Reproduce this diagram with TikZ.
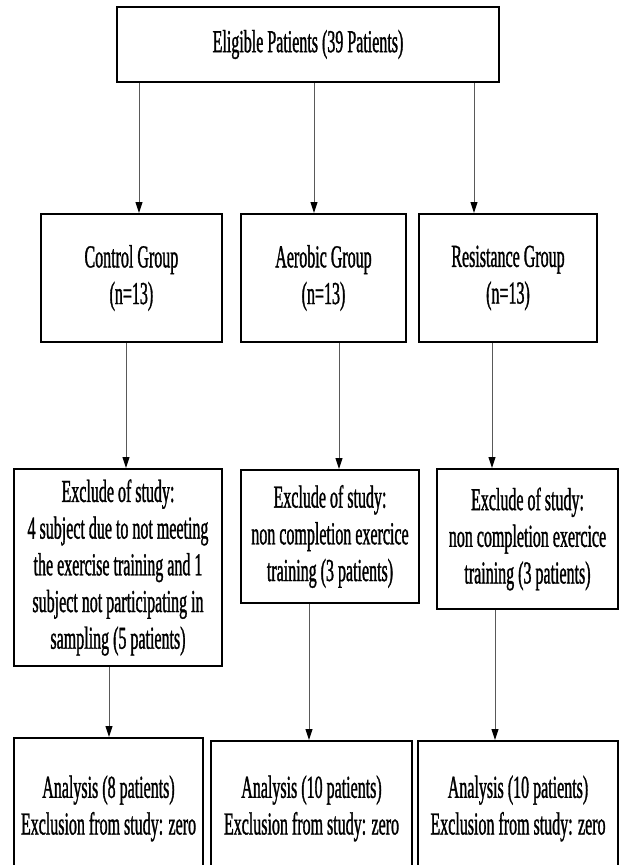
\documentclass[tikz,border=0pt]{standalone}
\usepackage{fontspec}
\setmainfont[FakeStretch=0.5,FakeBold=1]{Liberation Serif}
\usetikzlibrary{arrows.meta}
\begin{document}
\begin{tikzpicture}[x=1pt,y=-1pt,
  box/.style={draw=black,line width=2pt,inner sep=0pt,align=center,
    font=\fontsize{32}{36.7}\selectfont},
  arr/.style={draw=black!65,line width=1pt,-{Triangle[length=11pt,width=7pt,color=black]}}]
\useasboundingbox (0,0) rectangle (619,865);
\clip (0,0) rectangle (619,865);
\fill[white] (0,0) rectangle (619,865);
% top
\node[box,minimum width=382pt,minimum height=75pt] (top) at (308,44.5) {Eligible Patients (39 Patients)};
% groups
\node[box,minimum width=181pt,minimum height=128pt] (g1) at (131.4,278) {Control Group\\(n=13)};
\node[box,minimum width=165pt,minimum height=128pt] (g2) at (323.5,278) {Aerobic Group\\(n=13)};
\node[box,minimum width=178pt,minimum height=128pt] (g3) at (508,278) {Resistance Group\\(n=13)};
% exclusions
\node[box,minimum width=208pt,minimum height=197pt] (e1) at (118,567.5) {Exclude of study:\\4 subject due to not meeting\\the exercise training and 1\\subject not participating in\\sampling (5 patients)};
\node[box,minimum width=178pt,minimum height=133pt] (e2) at (330,536.5) {Exclude of study:\\non completion exercice\\training (3 patients)};
\node[box,minimum width=181pt,minimum height=140pt] (e3) at (527.5,539) {Exclude of study:\\non completion exercice\\training (3 patients)};
% analysis
\node[box,minimum width=189pt,minimum height=141pt] (a1) at (108.5,808.5) {Analysis (8 patients)\\Exclusion from study: zero};
\node[box,minimum width=201pt,minimum height=135pt] (a2) at (311.5,808.5) {Analysis (10 patients)\\Exclusion from study: zero};
\node[box,minimum width=200pt,minimum height=135pt] (a3) at (518,808.5) {Analysis (10 patients)\\Exclusion from study: zero};
% arrow columns
\coordinate (c1) at (139,0);
\coordinate (c2) at (314,0);
\coordinate (c3) at (474,0);
\coordinate (d1) at (126,0);
\coordinate (d2) at (339,0);
\coordinate (d3) at (492,0);
\coordinate (f1) at (109,0);
\coordinate (f2) at (309,0);
\coordinate (f3) at (495,0);
\draw[arr] (top.south -| c1) -- (g1.north -| c1);
\draw[arr] (top.south -| c2) -- (g2.north -| c2);
\draw[arr] (top.south -| c3) -- (g3.north -| c3);
\draw[arr] (g1.south -| d1) -- (e1.north -| d1);
\draw[arr] (g2.south -| d2) -- (e2.north -| d2);
\draw[arr] (g3.south -| d3) -- (e3.north -| d3);
\draw[arr] (e1.south -| f1) -- (a1.north -| f1);
\draw[arr] (e2.south -| f2) -- (a2.north -| f2);
\draw[arr] (e3.south -| f3) -- (a3.north -| f3);
\end{tikzpicture}
\end{document}
